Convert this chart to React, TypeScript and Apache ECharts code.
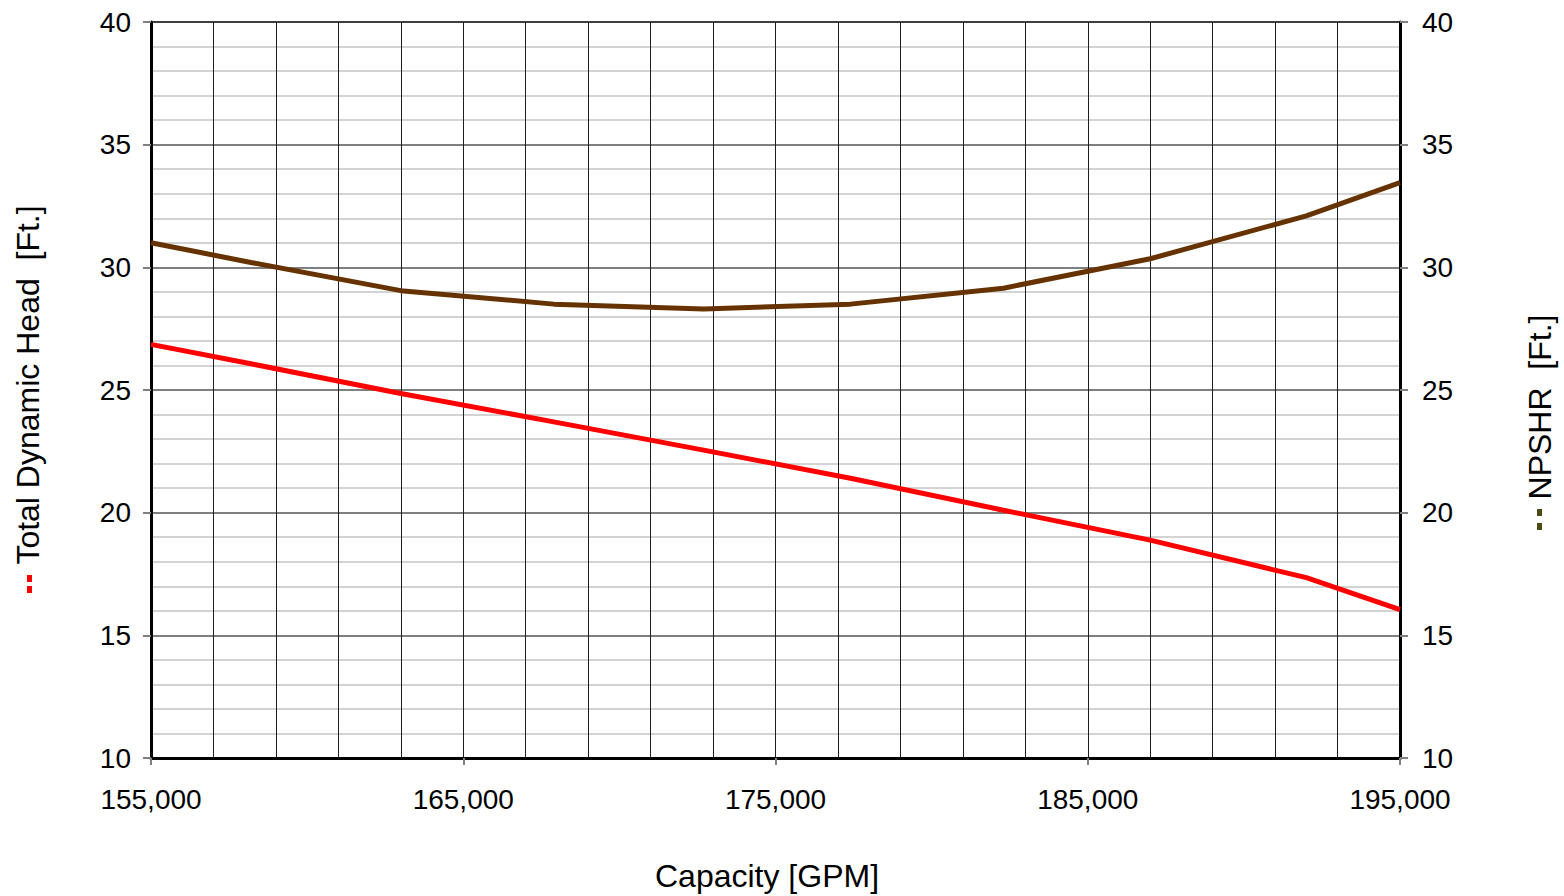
import React, { useEffect, useRef } from "react";
import * as echarts from "echarts";

const capacity = [155000, 158200, 163000, 167900, 172700, 177400, 182300, 187000, 192000, 195000];
const totalDynamicHead = [26.86, 26.07, 24.86, 23.7, 22.55, 21.4, 20.1, 18.88, 17.35, 16.05];
const npshr = [31.0, 30.2, 29.05, 28.5, 28.3, 28.5, 29.15, 30.35, 32.1, 33.45];

const xLabelValues = [155000, 165000, 175000, 185000, 195000];
const yTickValues = [10, 15, 20, 25, 30, 35, 40];

const FONT = "'Liberation Sans', Arial, sans-serif";

export default function App() {
  const ref = useRef<HTMLDivElement>(null);

  useEffect(() => {
    if (!ref.current) return;
    const chart = echarts.init(ref.current, undefined, { renderer: "svg" });
    const fmtX = (v: number) =>
      xLabelValues.includes(Math.round(v)) ? Math.round(v).toLocaleString("en-US") : "";
    const fmtY = (v: number) => (yTickValues.includes(Math.round(v)) ? String(Math.round(v)) : "");

    chart.setOption({
      animation: false,
      backgroundColor: "#ffffff",
      grid: {
        left: 151,
        right: 164,
        top: 22,
        bottom: 138,
        show: true,
        borderColor: "#000",
        borderWidth: 2,
        backgroundColor: "transparent",
      },
      xAxis: [
        {
          type: "value",
          min: 155000,
          max: 195000,
          interval: 2000,
          position: "bottom",
          axisLine: { show: true, onZero: false, lineStyle: { color: "#000", width: 3 } },
          axisTick: { show: false },
          axisLabel: { show: false },
          splitLine: { show: true, lineStyle: { color: "#1e1e1e", width: 1 } },
        },
        {
          type: "value",
          min: 155000,
          max: 195000,
          interval: 10000,
          position: "bottom",
          axisLine: { show: false, onZero: false },
          axisTick: { show: true, length: 7, lineStyle: { color: "#808080", width: 2 } },
          axisLabel: {
            show: true,
            margin: 27,
            formatter: fmtX,
            color: "#000",
            fontSize: 28,
            fontFamily: FONT,
          },
          splitLine: { show: false },
        },
      ],
      yAxis: [
        {
          type: "value",
          min: 10,
          max: 40,
          interval: 5,
          position: "left",
          axisLine: { show: true, onZero: false, lineStyle: { color: "#000", width: 3 } },
          axisTick: { show: true, length: 8, lineStyle: { color: "#808080", width: 2 } },
          axisLabel: {
            margin: 20,
            formatter: fmtY,
            color: "#000",
            fontSize: 28,
            fontFamily: FONT,
          },
          splitLine: { show: true, lineStyle: { color: "#555555", width: 1.5 } },
          minorTick: { show: false, splitNumber: 5 },
          minorSplitLine: { show: true, lineStyle: { color: "#c4c4c4", width: 1.5 } },
        },
        {
          type: "value",
          min: 10,
          max: 40,
          interval: 5,
          position: "right",
          axisLine: { show: true, onZero: false, lineStyle: { color: "#000", width: 3 } },
          axisTick: { show: true, length: 8, lineStyle: { color: "#808080", width: 2 } },
          axisLabel: {
            margin: 22,
            formatter: fmtY,
            color: "#000",
            fontSize: 28,
            fontFamily: FONT,
          },
          splitLine: { show: false },
        },
      ],
      series: [
        {
          name: "Total Dynamic Head",
          type: "line",
          xAxisIndex: 0,
          yAxisIndex: 0,
          data: capacity.map((c, i) => [c, totalDynamicHead[i]]),
          showSymbol: false,
          symbol: "none",
          lineStyle: { color: "#ff0000", width: 5 },
          z: 5,
        },
        {
          name: "NPSHR",
          type: "line",
          xAxisIndex: 0,
          yAxisIndex: 1,
          data: capacity.map((c, i) => [c, npshr[i]]),
          showSymbol: false,
          symbol: "none",
          lineStyle: { color: "#663300", width: 5 },
          z: 5,
        },
      ],
      graphic: [
        {
          type: "text",
          x: 767,
          y: 876,
          style: {
            text: "Capacity [GPM]",
            font: `32px ${FONT}`,
            fill: "#000",
            textAlign: "center",
            textVerticalAlign: "middle",
          },
        },
        {
          type: "text",
          x: 28,
          y: 385,
          rotation: Math.PI / 2,
          style: {
            text: "Total Dynamic Head  [Ft.]",
            font: `32px ${FONT}`,
            fill: "#000",
            textAlign: "center",
            textVerticalAlign: "middle",
          },
        },
        { type: "rect", shape: { x: 27, y: 575, width: 5, height: 7 }, style: { fill: "#ff0000" } },
        { type: "rect", shape: { x: 27, y: 586, width: 5, height: 7 }, style: { fill: "#ff0000" } },
        {
          type: "text",
          x: 1540,
          y: 407,
          rotation: Math.PI / 2,
          style: {
            text: "NPSHR  [Ft.]",
            font: `32px ${FONT}`,
            fill: "#000",
            textAlign: "center",
            textVerticalAlign: "middle",
          },
        },
        { type: "rect", shape: { x: 1537, y: 509, width: 5, height: 7 }, style: { fill: "#4a4a12" } },
        { type: "rect", shape: { x: 1537, y: 523, width: 5, height: 7 }, style: { fill: "#4a4a12" } },
      ],
    });
    return () => chart.dispose();
  }, []);

  return (
    <div
      ref={ref}
      style={{ position: "absolute", left: 0, top: 0, width: 1564, height: 896, background: "#fff" }}
    />
  );
}
